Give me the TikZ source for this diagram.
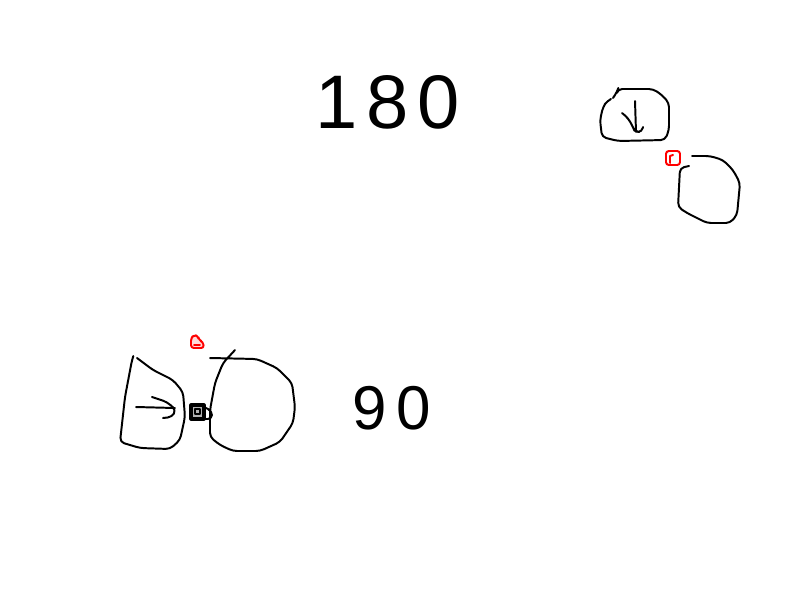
\documentclass[tikz,border=0pt]{standalone}
\usepackage{fontspec}
\setmainfont{Liberation Sans}
\begin{document}
\begin{tikzpicture}[x=0.025cm, y=-0.025cm,
  every path/.style={line width=1.4pt, line join=round, line cap=round},
  stroke/.style={draw=black, rounded corners=3pt},
  redmark/.style={draw=red, rounded corners=2pt},
  digits/.style={inner sep=0pt, anchor=base}]

\useasboundingbox (0,0) rectangle (800,600);

% numbers

\node[digits, font=\fontsize{54}{54}\selectfont] (top) at (388,128) {1\hspace{0.22cm}8\hspace{0.22cm}0};
\node[digits, font=\fontsize{44}{44}\selectfont] (bottom) at (392,429) {9\hspace{0.25cm}0};

% top right: box with arrow, red mark, blob

\draw[stroke] (613,98) -- (617,92) -- (618,89) -- (653,89) -- (662,95) -- (669,103)
  -- (669,130) -- (665,140) -- (618,141) -- (602,137) -- (600,120) -- (603,107)
  -- (607,101) -- (611,99);
\draw[stroke] (635,101) -- (636,132);
\draw[stroke] (622,113) -- (628,118) -- (633,127) -- (635,132) -- (642,132) -- (643,127);

\draw[redmark] (666,151) rectangle (680,165);
\draw[draw=red] (670,163) -- (670,156) -- (673,155);

\draw[stroke] (689,166) -- (680,168) -- (678,207) -- (687,213) -- (707,223) -- (730,223)
  -- (737,215) -- (740,183) -- (733,170) -- (723,160) -- (710,156) -- (692,156);

% bottom left: box with arrow, small marks, blob

\draw[stroke] (133,357) -- (132,360) -- (125,397) -- (120,442) -- (140,448) -- (170,449)
  -- (180,440) -- (185,417) -- (183,392) -- (173,380) -- (153,370) -- (137,358);
\draw[stroke] (136,407) -- (175,408);
\draw[stroke] (152,397) -- (167,402) -- (176,410) -- (172,417) -- (163,418);

\draw[redmark, fill=red!15] (191,348) -- (191,338) -- (194,335) -- (198,336) -- (199,340)
  -- (203,342) -- (204,348) -- cycle;
\draw[draw=red] (194,345) -- (200,345);

\draw[draw=black, line width=2.2pt, fill=black!30] (191,405) rectangle (204,419);
\draw[draw=black] (195,409) rectangle (200,414);
\draw[stroke] (204,407) -- (212,411) -- (212,419) -- (204,419);

\draw[stroke] (210,358) -- (257,359) -- (277,368) -- (292,383) -- (295,407) -- (293,423)
  -- (280,442) -- (260,451) -- (233,451) -- (220,445) -- (210,437) -- (210,410)
  -- (215,383) -- (223,363) -- (235,350);

\end{tikzpicture}
\end{document}
